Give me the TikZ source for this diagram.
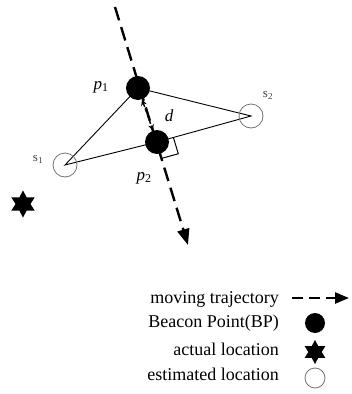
\documentclass[tikz,border=0pt]{standalone}
\usepackage{fontspec}
\setmainfont{Liberation Serif}
\usetikzlibrary{arrows.meta,shapes.geometric,backgrounds,calc}
\begin{document}
\begin{tikzpicture}[x=1pt,y=-1pt,
  bp/.style={circle,fill=black,minimum size=24pt,inner sep=0pt},
  est/.style={circle,draw=black!55,line width=0.8pt,minimum size=24pt,inner sep=0pt},
  act/.style={star,star points=6,star point ratio=1.8,fill=black,minimum size=27pt,inner sep=0pt},
  tri/.style={line width=0.9pt},
  traj/.style={line width=2.4pt,dash pattern=on 14pt off 7pt,-{Triangle[length=16pt,width=12pt]}},
  legtraj/.style={line width=2.4pt,dash pattern=on 11pt off 6pt,-{Triangle[length=14pt,width=11pt]}},
  darrow/.style={line width=1.4pt,dash pattern=on 4pt off 2pt,{Stealth[length=6pt,width=6pt]}-{Stealth[length=6pt,width=6pt]}},
  lbl/.style={font=\fontsize{17}{17}\selectfont\itshape,inner sep=0pt},
  slbl/.style={font=\fontsize{13}{13}\selectfont,text=black!75,inner sep=0pt},
  leg/.style={anchor=base east,inner sep=0pt,font=\fontsize{18}{20}\selectfont}]
\useasboundingbox (0,0) rectangle (352,394);

% main figure
\coordinate (t0) at (115,7);
\coordinate (t1) at (188,245);
\node[bp] (p1) at (138,88) {};
\node[bp] (p2) at (157,142) {};
\node[est] (s1) at (65,165) {};
\node[est] (s2) at (251,116) {};
\node[act] (star) at (23,204) {};

\begin{scope}[on background layer]
  \draw[traj] (t0) -- (t1);
  \draw[tri] (s1.center) -- (p1.center) -- (s2.center) -- (p2.center) -- cycle;
  \coordinate (ra) at ($(p2.center)!17pt!(s2.center)$);
  \coordinate (rb) at ($(p2.center)!17pt!(t1)$);
  \draw[line width=1pt] (ra) -- ($(ra)+(rb)-(p2.center)$) -- (rb);
\end{scope}
\draw[darrow] (p1) -- (p2);

\node[lbl] (lp1) at (101,87) {p\textsubscript{\upshape 1}};
\node[lbl] (lp2) at (144,178) {p\textsubscript{\upshape 2}};
\node[slbl] (ls1) at (38,159) {s\textsubscript{1}};
\node[slbl] (ls2) at (268,95) {s\textsubscript{2}};
\node[lbl] (ld) at (169,116) {d};

% legend
\node[leg] (l1) at (279,303) {moving trajectory};
\node[leg] (l2) at (279,327) {Beacon Point(BP)};
\node[leg] (l3) at (279,355) {actual location};
\node[leg] (l4) at (279,380) {estimated location};
\coordinate (la0) at (292,298);
\coordinate (la1) at (349,298);
\draw[legtraj] (la0) -- (la1);
\node[bp,minimum size=20pt] (lbp) at (315,323) {};
\node[act,minimum size=24pt] (lact) at (315,352) {};
\node[est,minimum size=20pt] (lest) at (315,378) {};
\end{tikzpicture}
\end{document}
